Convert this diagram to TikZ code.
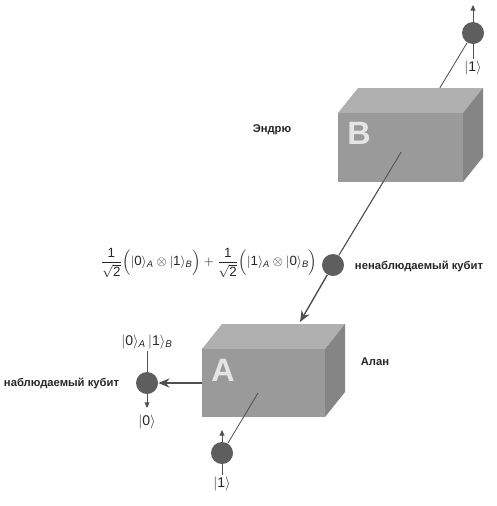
\documentclass[tikz,border=0pt]{standalone}
\usepackage{fontspec}
\setmainfont{Liberation Sans}
\usetikzlibrary{arrows.meta,calc}
\definecolor{qubitgray}{HTML}{5E5E5E}
\definecolor{linegray}{HTML}{505050}
\definecolor{boxfront}{HTML}{9A9A9A}
\definecolor{boxtop}{HTML}{B0B0B0}
\definecolor{boxside}{HTML}{858585}
% front face from (#1,#2), width #3, height #4
\newcommand{\drawcube}[4]{%
  \fill[boxtop] (#1,#2) -- ++(20,-25) -- ++(#3,0) -- ++(-20,25) -- cycle;
  \fill[boxside] ({#1+#3},#2) -- ++(20,-25) -- ++(0,#4) -- ++(-20,25) -- cycle;
  \fill[boxfront] (#1,#2) rectangle ++(#3,#4);
}
\begin{document}
\begin{tikzpicture}[
    x=0.025cm, y=-0.025cm,
    qubit/.style={circle, fill=qubitgray, minimum size=0.55cm, inner sep=0pt},
    lbl/.style={font=\fontsize{8}{10}\selectfont\bfseries, text=black!85},
    ket/.style={font=\fontsize{10}{12}\selectfont, text=black!85, inner sep=1pt},
    letter/.style={font=\fontsize{23}{23}\selectfont\bfseries, text=white!80!gray},
    wire/.style={draw=linegray, line width=0.6pt},
    spin/.style={draw=linegray, line width=0.7pt, -{Triangle[length=4pt,width=3.5pt]}},
    flow/.style={draw=linegray, line width=1pt, -{Stealth[length=8pt,width=6.5pt]}}
  ]
  \useasboundingbox (0,0) rectangle (496,506);
  % qubits
  \node[qubit] (qB) at (473,33) {};
  \node[qubit] (qM) at (333,265) {};
  \node[qubit] (qO) at (147,383) {};
  \node[qubit] (qI) at (222,453) {};
  % Andrew's box
  \draw[wire] (qB) -- (qM);
  \drawcube{338}{113}{125}{69}
  \node[letter] (letB) at (359,133) {B};
  \draw[wire] ($(qB.center)!0.513!(qM.center)$) -- (qM);
  \node[lbl] (andrew) at (272,130) {Эндрю};
  % Alan's box
  \drawcube{202}{349}{123}{68}
  \node[letter] (letA) at (223,370) {A};
  \node[lbl] (alan) at (375,362) {Алан};
  \coordinate (aIn) at (258,393);
  \coordinate (aTop) at (300,322);
  \coordinate (aLeft) at (202,383);
  \draw[wire] (qI) -- (aIn);
  % state between the boxes
  \node[ket, font=\fontsize{9.5}{11}\selectfont] (state) at (209,263)
    {$\displaystyle\frac{\mathrm{1}}{\sqrt{\mathrm{2}}}\Bigl(|\mathrm{0}\rangle_{\mathit{A}}\otimes|\mathrm{1}\rangle_{\mathit{B}}\Bigr)
      +\frac{\mathrm{1}}{\sqrt{\mathrm{2}}}\Bigl(|\mathrm{1}\rangle_{\mathit{A}}\otimes|\mathrm{0}\rangle_{\mathit{B}}\Bigr)$};
  \node[lbl, anchor=west] (hidden) at (350,266) {ненаблюдаемый кубит};
  \node[lbl, anchor=east] (seen) at (124,383) {наблюдаемый кубит};
  \draw[flow] (qM) -- (aTop);
  \draw[flow] (aLeft) -- (qO);
  % kets
  \node[ket] (kB) at (473,68) {$|\mathrm{1}\rangle$};
  \node[ket] (kAB) at (147,342) {$|\mathrm{0}\rangle_{\mathit{A}}\,|\mathrm{1}\rangle_{\mathit{B}}$};
  \node[ket] (kO) at (147,422) {$|\mathrm{0}\rangle$};
  \node[ket] (kI) at (222,484) {$|\mathrm{1}\rangle$};
  \coordinate (upB) at (473,5);
  \coordinate (downO) at (147,408);
  \coordinate (upI) at (222,430);
  \draw[spin] (qB) -- (upB);
  \draw[wire] (qB) -- (kB);
  \draw[wire] (qO) -- (kAB);
  \draw[spin] (qO) -- (downO);
  \draw[spin] (qI) -- (upI);
  \draw[wire] (qI) -- (kI);
\end{tikzpicture}
\end{document}
